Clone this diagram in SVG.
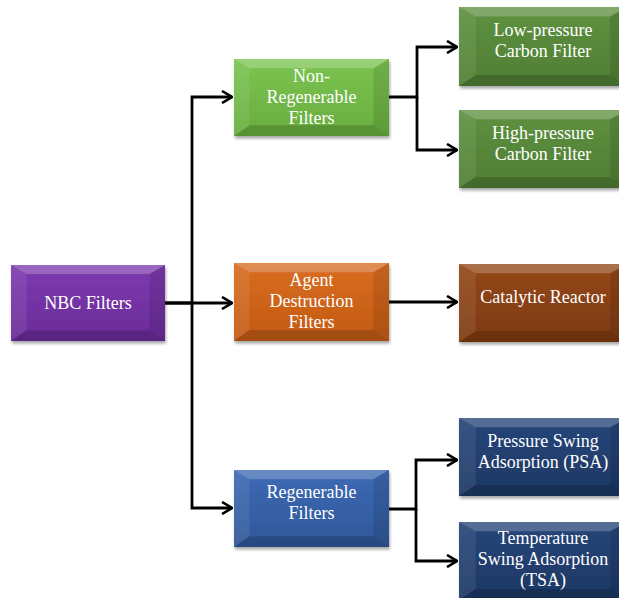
<svg xmlns="http://www.w3.org/2000/svg" xmlns:xlink="http://www.w3.org/1999/xlink" width="619" height="598" viewBox="0 0 619 598">
<defs>
<style>
text{font-family:'Liberation Serif','Times New Roman',Times,'DejaVu Serif',serif;font-size:18px;fill:#ffffff;text-anchor:middle}
.c{fill:none;stroke:#000;stroke-width:2.8;stroke-linejoin:miter}
</style>
<filter id="sh" x="-10%" y="-10%" width="125%" height="130%">
<feDropShadow dx="1" dy="2.5" stdDeviation="1.8" flood-color="#000" flood-opacity="0.35"/>
</filter>
<marker id="ar" viewBox="0 0 12 14" refX="11" refY="7" markerWidth="12" markerHeight="14" markerUnits="userSpaceOnUse" orient="auto">
<path d="M1,1 L11,7 L1,13" fill="none" stroke="#000" stroke-width="2.6"/>
</marker>
<symbol id="bev" viewBox="0 0 100 100" preserveAspectRatio="none">
<polygon points="0,0 100,0 90,12 10,12" fill="#fff" opacity="0.22"/>
<polygon points="0,0 10,12 10,86 0,100" fill="#fff" opacity="0.08"/>
<polygon points="100,0 100,100 90,86 90,12" fill="#000" opacity="0.1"/>
<polygon points="0,100 100,100 90,86 10,86" fill="#000" opacity="0.16"/>
</symbol>
<linearGradient id="gP" x1="0" y1="0" x2="0" y2="1"><stop offset="0" stop-color="#7d3bb0"/><stop offset="1" stop-color="#6a2b98"/></linearGradient>
<linearGradient id="gG1" x1="0" y1="0" x2="0" y2="1"><stop offset="0" stop-color="#7cc452"/><stop offset="1" stop-color="#68ad3e"/></linearGradient>
<linearGradient id="gG2" x1="0" y1="0" x2="0" y2="1"><stop offset="0" stop-color="#5f9140"/><stop offset="1" stop-color="#4f7e33"/></linearGradient>
<linearGradient id="gO" x1="0" y1="0" x2="0" y2="1"><stop offset="0" stop-color="#d96d22"/><stop offset="1" stop-color="#c25a12"/></linearGradient>
<linearGradient id="gBr" x1="0" y1="0" x2="0" y2="1"><stop offset="0" stop-color="#93481a"/><stop offset="1" stop-color="#7e3a10"/></linearGradient>
<linearGradient id="gB" x1="0" y1="0" x2="0" y2="1"><stop offset="0" stop-color="#3d6ab4"/><stop offset="1" stop-color="#2f5799"/></linearGradient>
<linearGradient id="gN" x1="0" y1="0" x2="0" y2="1"><stop offset="0" stop-color="#26467a"/><stop offset="1" stop-color="#1d3763"/></linearGradient>
</defs>
<rect x="0" y="0" width="619" height="598" fill="#ffffff"/>

<g id="connectors">
<path class="c" d="M165,303 H192 V97 H232" marker-end="url(#ar)"/>
<path class="c" d="M165,303 H232" marker-end="url(#ar)"/>
<path class="c" d="M192,303 V508 H232" marker-end="url(#ar)"/>
<path class="c" d="M389,97 H417 V47 H457" marker-end="url(#ar)"/>
<path class="c" d="M417,97 V150 H457" marker-end="url(#ar)"/>
<path class="c" d="M389,302 H457" marker-end="url(#ar)"/>
<path class="c" d="M389,509 H416 V460 H457" marker-end="url(#ar)"/>
<path class="c" d="M416,509 V561 H457" marker-end="url(#ar)"/>
</g>

<g id="nbc">
<rect x="11" y="265" width="154" height="76" fill="url(#gP)" filter="url(#sh)"/>
<use xlink:href="#bev" x="11" y="265" width="154" height="76"/>
<text x="88" y="309" font-family="Liberation Serif">NBC Filters</text>
</g>

<g id="nonregen">
<rect x="234" y="59" width="155" height="77" fill="url(#gG1)" filter="url(#sh)"/>
<use xlink:href="#bev" x="234" y="59" width="155" height="77"/>
<text x="311.5" y="82">Non-</text>
<text x="311.5" y="103">Regenerable</text>
<text x="311.5" y="124">Filters</text>
</g>

<g id="agent">
<rect x="234" y="263" width="155" height="78" fill="url(#gO)" filter="url(#sh)"/>
<use xlink:href="#bev" x="234" y="263" width="155" height="78"/>
<text x="311.5" y="286">Agent</text>
<text x="311.5" y="307">Destruction</text>
<text x="311.5" y="328">Filters</text>
</g>

<g id="regen">
<rect x="234" y="470" width="155" height="77" fill="url(#gB)" filter="url(#sh)"/>
<use xlink:href="#bev" x="234" y="470" width="155" height="77"/>
<text x="311.5" y="498">Regenerable</text>
<text x="311.5" y="519">Filters</text>
</g>

<g id="lowpressure">
<rect x="459" y="7" width="168" height="79" fill="url(#gG2)" filter="url(#sh)"/>
<use xlink:href="#bev" x="459" y="7" width="168" height="79"/>
<text x="543" y="36">Low-pressure</text>
<text x="543" y="57">Carbon Filter</text>
</g>

<g id="highpressure">
<rect x="459" y="110" width="168" height="78" fill="url(#gG2)" filter="url(#sh)"/>
<use xlink:href="#bev" x="459" y="110" width="168" height="78"/>
<text x="543" y="139">High-pressure</text>
<text x="543" y="160">Carbon Filter</text>
</g>

<g id="catalytic">
<rect x="459" y="264" width="168" height="78" fill="url(#gBr)" filter="url(#sh)"/>
<use xlink:href="#bev" x="459" y="264" width="168" height="78"/>
<text x="543" y="303">Catalytic Reactor</text>
</g>

<g id="psa">
<rect x="459" y="418" width="168" height="78" fill="url(#gN)" filter="url(#sh)"/>
<use xlink:href="#bev" x="459" y="418" width="168" height="78"/>
<text x="543" y="447">Pressure Swing</text>
<text x="543" y="468">Adsorption (PSA)</text>
</g>

<g id="tsa">
<rect x="459" y="522" width="168" height="78" fill="url(#gN)" filter="url(#sh)"/>
<use xlink:href="#bev" x="459" y="522" width="168" height="78"/>
<text x="543" y="544">Temperature</text>
<text x="543" y="565">Swing Adsorption</text>
<text x="543" y="586">(TSA)</text>
</g>
</svg>
